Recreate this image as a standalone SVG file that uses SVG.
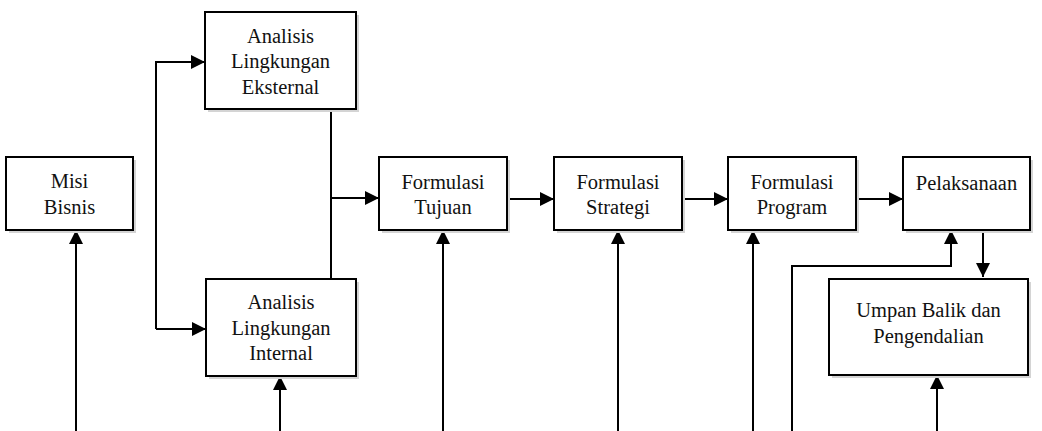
<svg xmlns="http://www.w3.org/2000/svg" width="1042" height="431" viewBox="0 0 1042 431">
<defs>
<marker id="ah" viewBox="0 0 10 10" refX="10" refY="5" markerWidth="14" markerHeight="14" markerUnits="userSpaceOnUse" orient="auto">
<path d="M0,0 L10,5 L0,10 z" fill="#000"/>
</marker>
</defs>
<style>
.box{fill:#fff;stroke:#000;stroke-width:2}
.sh{fill:#d4d4d4}
.t{font-size:20.5px;fill:#111;text-anchor:middle}
.c{fill:none;stroke:#000;stroke-width:2}
.a{fill:none;stroke:#000;stroke-width:2;marker-end:url(#ah)}
</style>
<rect width="1042" height="431" fill="#fff"/>
<g id="connectors">
<path class="a" d="M156,329 V62 H205"/>
<path class="a" d="M156,329 H206"/>
<path class="c" d="M331,109 V279"/>
<path class="a" d="M331,198 H379"/>
<path class="a" d="M507,199 H554"/>
<path class="a" d="M682,199 H728"/>
<path class="a" d="M856,199 H903"/>
<path class="a" d="M983,230 V277"/>
<path class="a" d="M792,431 V266 H951 V230"/>
<path class="a" d="M76,431 V230"/>
<path class="a" d="M280,431 V376"/>
<path class="a" d="M443,431 V230"/>
<path class="a" d="M618,431 V230"/>
<path class="a" d="M753,431 V230"/>
<path class="a" d="M937,431 V375"/>
</g>
<g font-family="Liberation Serif, Times New Roman, serif">
<g id="misi">
<rect class="sh" x="9" y="160" width="127" height="73"/>
<rect class="box" x="6" y="157" width="127" height="73"/>
<text class="t" x="69.5" y="188">Misi</text>
<text class="t" x="69.5" y="214">Bisnis</text>
</g>
<g id="eksternal">
<rect class="sh" x="208" y="15" width="151" height="97"/>
<rect class="box" x="205" y="12" width="151" height="97"/>
<text class="t" x="280.5" y="43">Analisis</text>
<text class="t" x="280.5" y="68">Lingkungan</text>
<text class="t" x="280.5" y="94">Eksternal</text>
</g>
<g id="internal">
<rect class="sh" x="209" y="282" width="150" height="97"/>
<rect class="box" x="206" y="279" width="150" height="97"/>
<text class="t" x="281" y="309">Analisis</text>
<text class="t" x="281" y="335">Lingkungan</text>
<text class="t" x="281" y="360">Internal</text>
</g>
<g id="tujuan">
<rect class="sh" x="382" y="160" width="128" height="73"/>
<rect class="box" x="379" y="157" width="128" height="73"/>
<text class="t" x="443" y="189">Formulasi</text>
<text class="t" x="443" y="214">Tujuan</text>
</g>
<g id="strategi">
<rect class="sh" x="557" y="160" width="128" height="73"/>
<rect class="box" x="554" y="157" width="128" height="73"/>
<text class="t" x="618" y="189">Formulasi</text>
<text class="t" x="618" y="214">Strategi</text>
</g>
<g id="program">
<rect class="sh" x="731" y="160" width="128" height="73"/>
<rect class="box" x="728" y="157" width="128" height="73"/>
<text class="t" x="792" y="189">Formulasi</text>
<text class="t" x="792" y="214">Program</text>
</g>
<g id="pelaksanaan">
<rect class="sh" x="906" y="160" width="127" height="73"/>
<rect class="box" x="903" y="157" width="127" height="73"/>
<text class="t" x="966.5" y="190">Pelaksanaan</text>
</g>
<g id="umpan">
<rect class="sh" x="832" y="282" width="199" height="96"/>
<rect class="box" x="829" y="279" width="199" height="96"/>
<text class="t" x="928.5" y="317">Umpan Balik dan</text>
<text class="t" x="928.5" y="343">Pengendalian</text>
</g>
</g>
</svg>
